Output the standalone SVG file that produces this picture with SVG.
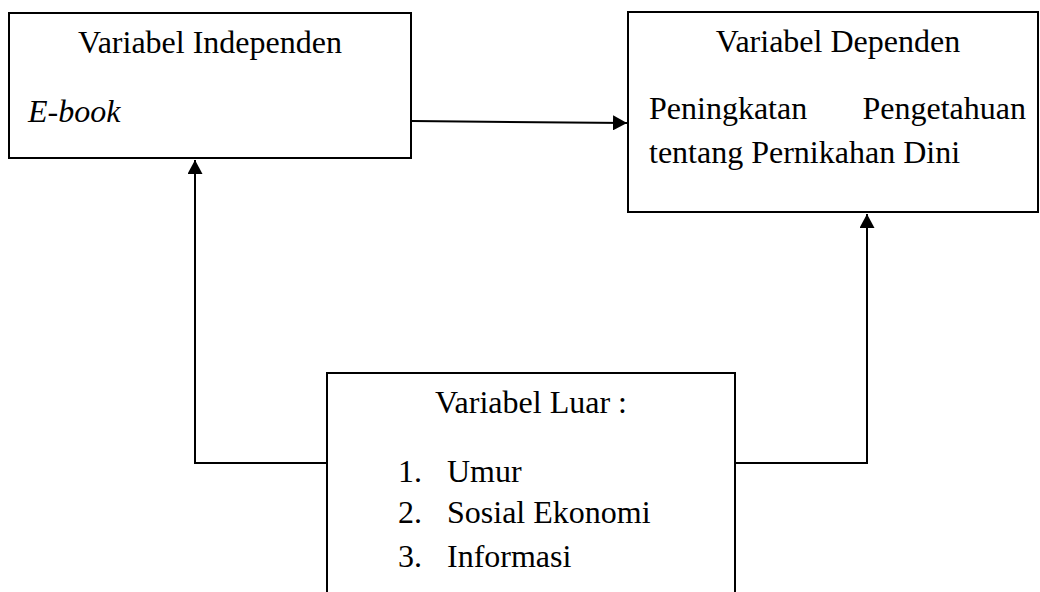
<svg xmlns="http://www.w3.org/2000/svg" width="1040" height="592" viewBox="0 0 1040 592">
  <style>
    .box { fill: #ffffff; stroke: #000000; stroke-width: 2; }
    .t { font-family: "Liberation Serif", "Times New Roman", serif; font-size: 32px; fill: #000000; }
    .c { text-anchor: middle; }
    .it { font-style: italic; }
    .wire { fill: none; stroke: #000000; stroke-width: 2; }
  </style>
  <defs>
    <marker id="arrow" viewBox="0 0 14 15" refX="14" refY="7.5" markerWidth="14" markerHeight="15" markerUnits="userSpaceOnUse" orient="auto">
      <path d="M0,0 L14,7.5 L0,15 Z" fill="#000000"/>
    </marker>
  </defs>
  <rect width="1040" height="592" fill="#ffffff"/>

  <g id="connectors">
    <path class="wire" d="M412,121 L627,123" marker-end="url(#arrow)"/>
    <path class="wire" d="M327,463 L195,463 L195,160" marker-end="url(#arrow)"/>
    <path class="wire" d="M735,463 L867,463 L867,214" marker-end="url(#arrow)"/>
  </g>

  <g id="independen">
    <rect class="box" x="9" y="13" width="402" height="145"/>
    <text class="t c" x="210" y="53">Variabel Independen</text>
    <text class="t it" x="28" y="122">E-book</text>
  </g>

  <g id="dependen">
    <rect class="box" x="628" y="12" width="410" height="200"/>
    <text class="t c" x="838" y="52">Variabel Dependen</text>
    <text class="t" x="649" y="119">Peningkatan</text>
    <text class="t" x="1026" y="119" text-anchor="end">Pengetahuan</text>
    <text class="t" x="649" y="163">tentang Pernikahan Dini</text>
  </g>

  <g id="luar">
    <rect class="box" x="327" y="373" width="408" height="230"/>
    <text class="t c" x="531" y="413">Variabel Luar :</text>
    <text class="t" x="398" y="482">1.</text>
    <text class="t" x="447" y="482">Umur</text>
    <text class="t" x="398" y="523">2.</text>
    <text class="t" x="447" y="523">Sosial Ekonomi</text>
    <text class="t" x="398" y="567">3.</text>
    <text class="t" x="447" y="567">Informasi</text>
  </g>
</svg>
